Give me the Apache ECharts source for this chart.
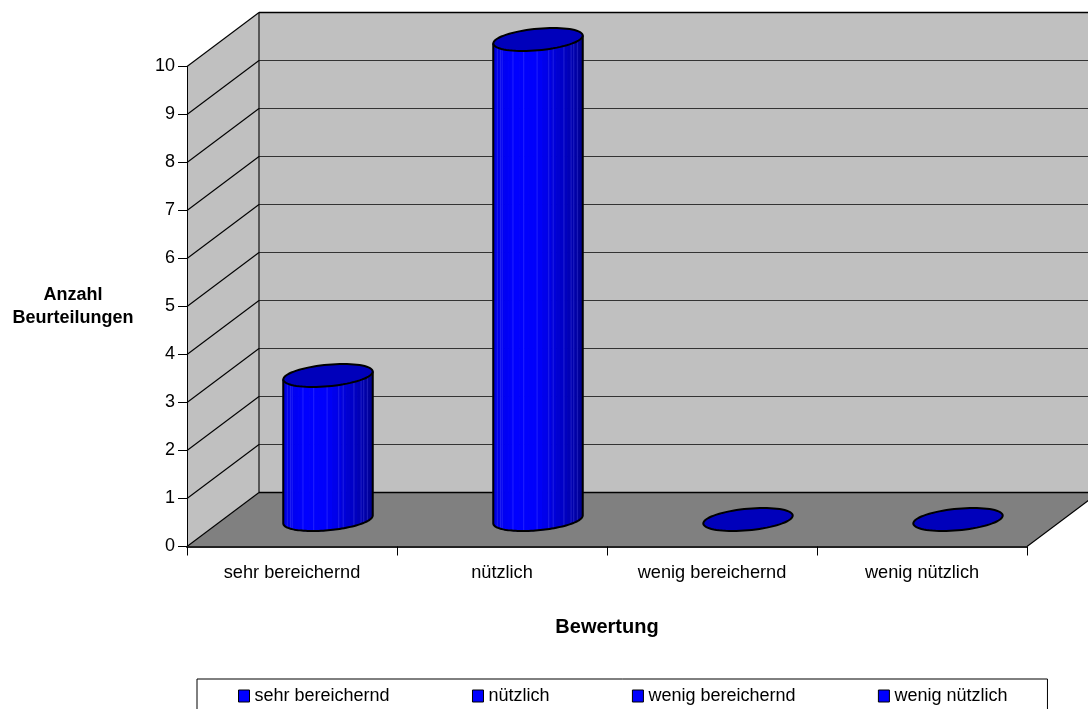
<!DOCTYPE html>
<html>
<head>
<meta charset="utf-8">
<title>Bewertung</title>
<style>
  html, body { margin: 0; padding: 0; background: #fff; overflow: hidden; }
  #chart { width: 1088px; height: 709px; }
</style>
<script src="https://cdn.jsdelivr.net/npm/echarts@6/dist/echarts.min.js"></script>
</head>
<body>
<div id="chart"></div>
<script>
// Ratings per category
const categories = ['sehr bereichernd', 'nützlich', 'wenig bereichernd', 'wenig nützlich'];
const ratings = [3, 10, 0, 0];
const valueTicks = [0, 1, 2, 3, 4, 5, 6, 7, 8, 9, 10];

// Oblique projection of the chart box: how far the back wall is shifted from the front plane
const DEPTH_X = 72;
const DEPTH_Y = 54;
const FONT = '"Liberation Sans", Arial, sans-serif';

function poly(points, fill, stroke, lineWidth) {
  return {
    type: 'polygon',
    shape: { points },
    style: { fill: fill || 'none', stroke: stroke || 'none', lineWidth: lineWidth || 0 },
    silent: true
  };
}
function seg(x1, y1, x2, y2, color, width) {
  return {
    type: 'line',
    shape: { x1, y1, x2, y2 },
    style: { stroke: color, lineWidth: width || 1 },
    silent: true
  };
}

// Side wall, back wall, floor and the gridlines running across both walls
function renderWalls(params, api) {
  const box = params.coordSys;
  const left = box.x;
  const right = box.x + box.width;
  const top = api.coord([0, valueTicks[valueTicks.length - 1]])[1];
  const bottom = api.coord([0, valueTicks[0]])[1];
  const children = [
    poly([[left, top], [left + DEPTH_X, top - DEPTH_Y], [left + DEPTH_X, bottom - DEPTH_Y], [left, bottom]], '#c0c0c0'),
    poly([[left + DEPTH_X, top - DEPTH_Y], [right + DEPTH_X, top - DEPTH_Y], [right + DEPTH_X, bottom - DEPTH_Y], [left + DEPTH_X, bottom - DEPTH_Y]], '#c0c0c0'),
    poly([[left, bottom], [left + DEPTH_X, bottom - DEPTH_Y], [right + DEPTH_X, bottom - DEPTH_Y], [right, bottom]], '#808080')
  ];
  valueTicks.forEach(function (tick) {
    const y = api.coord([0, tick])[1];
    const edge = tick === 0 || tick === 10;
    children.push(seg(left, y, left + DEPTH_X, y - DEPTH_Y, '#000', 1.1));
    children.push(seg(left + DEPTH_X, y - DEPTH_Y, right + DEPTH_X, y - DEPTH_Y, edge ? '#000' : '#333', edge ? 1.4 : 1.2));
  });
  children.push(seg(left + DEPTH_X, top - DEPTH_Y, left + DEPTH_X, bottom - DEPTH_Y, '#000', 1.1));
  children.push(seg(right, bottom, right + DEPTH_X, bottom - DEPTH_Y, '#000', 1.1));
  return { type: 'group', children };
}

// Cylinder shading from left to right across its visible face
const SHADE_STOPS = [[0, 220], [0.1, 240], [0.25, 255], [0.5, 250], [0.7, 214], [0.85, 184], [1, 146]];
function shade(f) {
  for (let i = 1; i < SHADE_STOPS.length; i++) {
    if (f <= SHADE_STOPS[i][0]) {
      const a = SHADE_STOPS[i - 1], b = SHADE_STOPS[i];
      const blue = Math.round(a[1] + (b[1] - a[1]) * (f - a[0]) / (b[0] - a[0]));
      return 'rgb(0,0,' + blue + ')';
    }
  }
  return 'rgb(0,0,146)';
}

const STRIPS = 30;
// Where the pale facet seams sit across the cylinder's width
const SEAMS = [0.045, 0.08, 0.10, 0.22, 0.34, 0.49, 0.62, 0.67, 0.79, 0.87, 0.90, 0.94];

// A cylinder standing halfway into the box, faceted into vertical strips
function renderCylinder(params, api) {
  const index = api.value(0);
  const base = api.coord([index, 0]);
  const head = api.coord([index, api.value(1)]);
  const band = api.size([1, 0])[0];
  const rx = band * 0.2;
  const ry = 11.5;
  const rd = ry * DEPTH_X / DEPTH_Y;
  const cx = base[0] + DEPTH_X / 2;
  const y0 = base[1] - DEPTH_Y / 2;
  const y1 = head[1] - DEPTH_Y / 2;
  const rim = function (t, y) {
    return [cx + rx * Math.cos(t) + rd * Math.sin(t), y - ry * Math.sin(t)];
  };
  const tilt = Math.atan2(rd, rx);
  const halfWidth = Math.sqrt(rx * rx + rd * rd);
  const children = [];
  if (y0 - y1 > 0.5) {
    for (let i = 0; i < STRIPS; i++) {
      const a = Math.PI + tilt + Math.PI * i / STRIPS;
      const b = Math.PI + tilt + Math.PI * (i + 1) / STRIPS;
      const pa = rim(a, y1), pb = rim(b, y1);
      const f = ((pa[0] + pb[0]) / 2 - (cx - halfWidth)) / (2 * halfWidth);
      // each strip is filled and stroked in its own colour so neighbours close up
      children.push(poly([pa, pb, rim(b, y0), rim(a, y0)], shade(f), shade(f), 1));
    }
    SEAMS.forEach(function (f) {
      const t = Math.PI + tilt + Math.acos(1 - 2 * f);
      const p = rim(t, y1), q = rim(t, y0);
      children.push(seg(p[0], p[1], q[0], q[1], 'rgba(120,120,255,0.28)', 1));
    });
    const frontBottom = [];
    for (let i = 0; i <= 60; i++) {
      frontBottom.push(rim(Math.PI + tilt + Math.PI * i / 60, y0));
    }
    const outline = [rim(Math.PI + tilt, y1)].concat(frontBottom, [rim(tilt, y1)]);
    children.push({
      type: 'polyline',
      shape: { points: outline },
      style: { fill: 'none', stroke: '#000', lineWidth: 2 },
      silent: true
    });
  }
  const cap = [];
  for (let i = 0; i < 72; i++) {
    cap.push(rim(2 * Math.PI * i / 72, y1));
  }
  children.push(poly(cap, '#0000bb', '#000', 2));
  return { type: 'group', children };
}

const option = {
  animation: false,
  backgroundColor: '#fff',
  textStyle: { fontFamily: FONT },
  grid: { left: 187, right: 61, top: 66.5, bottom: 162.5, containLabel: false },
  legend: {
    data: categories,
    left: 197,
    top: 679,
    icon: 'rect',
    itemWidth: 11,
    itemHeight: 12,
    itemGap: 82.4,
    padding: [8, 40, 30, 41],
    borderColor: '#000',
    borderWidth: 1,
    selectedMode: false,
    itemStyle: { borderColor: '#000', borderWidth: 1 },
    textStyle: { color: '#000', fontSize: 18, fontFamily: FONT }
  },
  xAxis: {
    type: 'category',
    data: categories,
    z: 5,
    name: 'Bewertung',
    nameLocation: 'middle',
    nameGap: 71,
    nameMoveOverlap: false,
    nameTextStyle: { color: '#000', fontSize: 20, fontWeight: 'bold', fontFamily: FONT },
    axisLine: { lineStyle: { color: '#222', width: 2 } },
    axisTick: { show: true, length: 9, lineStyle: { color: '#000', width: 1 } },
    axisLabel: { color: '#000', fontSize: 18.2, margin: 17, fontFamily: FONT },
    splitLine: { show: false }
  },
  yAxis: {
    type: 'value',
    min: 0,
    max: 10,
    interval: 1,
    z: 5,
    name: 'Anzahl\nBeurteilungen',
    nameLocation: 'middle',
    nameRotate: 0,
    nameGap: 114,
    nameMoveOverlap: false,
    nameTextStyle: { color: '#000', fontSize: 18, fontWeight: 'bold', align: 'center', lineHeight: 23, padding: [0, 0, 4, 0], fontFamily: FONT },
    axisLine: { show: true, lineStyle: { color: '#000', width: 1 } },
    axisTick: { show: true, length: 9, lineStyle: { color: '#000', width: 1 } },
    axisLabel: { color: '#000', fontSize: 18, margin: 12, fontFamily: FONT },
    splitLine: { show: false }
  },
  series: [
    {
      type: 'custom',
      name: 'Wände',
      z: 1,
      silent: true,
      clip: false,
      data: [[categories[0], valueTicks[0]]],
      encode: { x: 0, y: 1 },
      renderItem: renderWalls
    }
  ].concat(categories.map(function (name, i) {
    return {
      type: 'custom',
      name: name,
      z: 3,
      clip: false,
      itemStyle: { color: '#0000ff' },
      data: [[name, ratings[i]]],
      encode: { x: 0, y: 1 },
      renderItem: renderCylinder
    };
  }))
};

echarts.init(document.getElementById('chart'), null, { renderer: 'canvas' }).setOption(option);
</script>
</body>
</html>
